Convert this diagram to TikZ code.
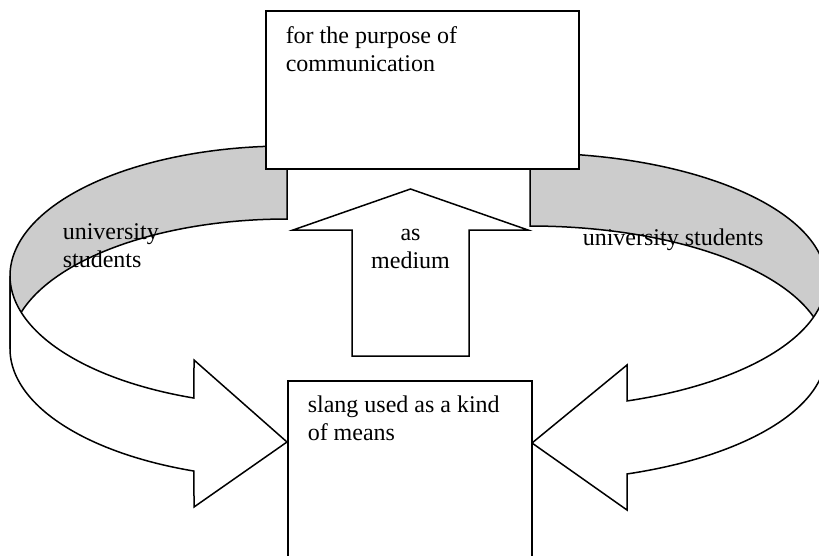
\documentclass[tikz,border=0pt]{standalone}
\usepackage{fontspec}
\setmainfont{Liberation Serif}
\definecolor{bandgray}{HTML}{CCCCCC}
\begin{document}
\begin{tikzpicture}[x=1pt,y=-1pt,
  line width=1.5pt, line join=miter,
  band/.style={fill=bandgray, draw=black},
  front/.style={fill=white, draw=black},
  box/.style={draw=black, fill=white, rectangle, inner sep=0pt, outer sep=0pt},
  lbl/.style={font=\fontsize{24}{28}\selectfont, inner sep=0pt, anchor=base west},
  clbl/.style={font=\fontsize{24}{28}\selectfont, inner sep=0pt, anchor=base}]
\useasboundingbox (0,0) rectangle (819,555);
\clip (0,0) rectangle (819,555);

% ---- left curved arrow (curved right arrow) ----
\filldraw[band]
  plot[domain=270:180, samples=90, variable=\t] ({287+277*cos(\t)}, {275.8+129.8*sin(\t)})
  -- plot[domain=180:270, samples=90, variable=\t] ({287+277*cos(\t)}, {348.8+129.8*sin(\t)})
  -- cycle;
\filldraw[front]
  plot[domain=180:109.62, samples=90, variable=\t] ({287+277*cos(\t)}, {275.8+129.8*sin(\t)})
  -- (194,360) -- (287,442) -- (194,507)
  -- plot[domain=109.62:180, samples=90, variable=\t] ({287+277*cos(\t)}, {348.8+129.8*sin(\t)})
  -- cycle;

% ---- right curved arrow (curved left arrow) ----
\filldraw[band]
  plot[domain=270:360, samples=90, variable=\t] ({530+296*cos(\t)}, {280.5+127.5*sin(\t)})
  -- plot[domain=360:270, samples=90, variable=\t] ({530+296*cos(\t)}, {353.5+127.5*sin(\t)})
  -- cycle;
\filldraw[front]
  plot[domain=0:70.87, samples=90, variable=\t] ({530+296*cos(\t)}, {280.5+127.5*sin(\t)})
  -- (627,365) -- (532,443) -- (627,510)
  -- plot[domain=70.87:0, samples=90, variable=\t] ({530+296*cos(\t)}, {353.5+127.5*sin(\t)})
  -- cycle;

% ---- top box ----
\node[box, minimum width=313pt, minimum height=158pt] (purpose) at (422.5,90) {};

% ---- up block arrow ----
\filldraw[front] (352,356) -- (352,230) -- (293,230) -- (410.5,189) -- (528,230)
  -- (469,230) -- (469,356) -- cycle;

% ---- bottom box ----
\node[box, minimum width=244pt, minimum height=240pt] (slang) at (410,501) {};

% ---- texts ----
\node[lbl] (t1) at (285,43) {for the purpose of};
\node[lbl] (t2) at (285,71) {communication};
\node[clbl] (m1) at (410.5,240) {as};
\node[clbl] (m2) at (410.5,268) {medium};
\node[lbl] (s1) at (307,412) {slang used as a kind};
\node[lbl] (s2) at (307,440) {of means};
\node[lbl] (u1) at (62,239) {university};
\node[lbl] (u2) at (62,267) {students};
\node[lbl] (u3) at (582,245) {university students};
\end{tikzpicture}
\end{document}
